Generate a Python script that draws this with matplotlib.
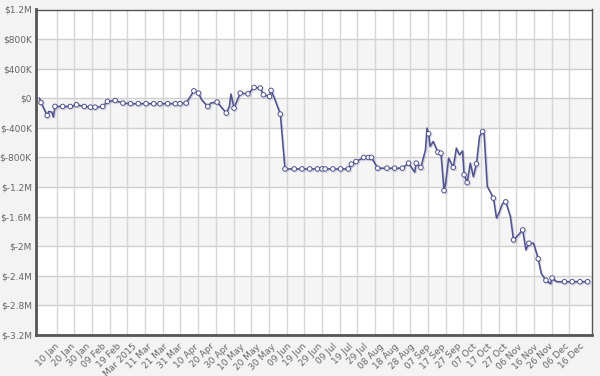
import matplotlib
matplotlib.use("Agg")
import matplotlib.pyplot as plt
import matplotlib.dates as mdates
import matplotlib.patheffects as pe
import numpy as np
import pandas as pd

# ---- data ----
dates = ["2014-12-31", "2015-01-01", "2015-01-05", "2015-01-06", "2015-01-08", "2015-01-09",
         "2015-01-10", "2015-01-15", "2015-01-20", "2015-01-24", "2015-01-29", "2015-02-02",
         "2015-02-05", "2015-02-10", "2015-02-13", "2015-02-18", "2015-02-23", "2015-02-28",
         "2015-03-05", "2015-03-10", "2015-03-15", "2015-03-19", "2015-03-24", "2015-03-29",
         "2015-04-01", "2015-04-05", "2015-04-10", "2015-04-13", "2015-04-15", "2015-04-19",
         "2015-04-21", "2015-04-25", "2015-05-01", "2015-05-03", "2015-05-04", "2015-05-06",
         "2015-05-10", "2015-05-15", "2015-05-19", "2015-05-23", "2015-05-25", "2015-05-29",
         "2015-05-30", "2015-06-01", "2015-06-05", "2015-06-08", "2015-06-14", "2015-06-19",
         "2015-06-24", "2015-06-29", "2015-07-02", "2015-07-04", "2015-07-09", "2015-07-14",
         "2015-07-19", "2015-07-21", "2015-07-24", "2015-07-29", "2015-08-01", "2015-08-03",
         "2015-08-07", "2015-08-13", "2015-08-18", "2015-08-23", "2015-08-27", "2015-08-31",
         "2015-09-01", "2015-09-04", "2015-09-07", "2015-09-08", "2015-09-09", "2015-09-10",
         "2015-09-12", "2015-09-15", "2015-09-17", "2015-09-19", "2015-09-20", "2015-09-22",
         "2015-09-25", "2015-09-27", "2015-09-29", "2015-10-01", "2015-10-02", "2015-10-04",
         "2015-10-06", "2015-10-08", "2015-10-10", "2015-10-12", "2015-10-14", "2015-10-15",
         "2015-10-17", "2015-10-21", "2015-10-23", "2015-10-25", "2015-10-26", "2015-10-27",
         "2015-10-29", "2015-11-01", "2015-11-03", "2015-11-06", "2015-11-09", "2015-11-11",
         "2015-11-13", "2015-11-16", "2015-11-19", "2015-11-21", "2015-11-24", "2015-11-27",
         "2015-11-28", "2015-12-01", "2015-12-06", "2015-12-11", "2015-12-16", "2015-12-21"]
values = [0, -57, -233, -178, -187, -255,
          -110, -111, -111, -88, -111, -120,
          -120, -111, -43, -30, -65, -73,
          -73, -73, -73, -73, -73, -73,
          -73, -65, 100, 70, -20, -111,
          -65, -51, -200, -111, 57, -133,
          70, 60, 146, 138, 47, 24,
          106, 11, -214, -955, -955, -955,
          -955, -955, -955, -955, -955, -955,
          -955, -890, -855, -800, -800, -800,
          -945, -945, -945, -945, -877, -1000,
          -877, -936, -697, -403, -480, -652,
          -584, -728, -742, -1248, -1150, -810,
          -936, -674, -765, -711, -1035, -1140,
          -877, -1060, -886, -515, -450, -495,
          -1190, -1350, -1620, -1530, -1470, -1420,
          -1400, -1600, -1915, -1850, -1780, -2050,
          -1960, -1960, -2170, -2370, -2460, -2510,
          -2430, -2480, -2480, -2480, -2480, -2480]
# points that carry a hollow marker (1) or are plain line vertices (0)
has_marker = [0, 1, 1, 0, 0, 0,
              1, 1, 1, 1, 1, 1,
              1, 1, 1, 1, 1, 1,
              1, 1, 1, 1, 1, 1,
              1, 1, 1, 1, 0, 1,
              0, 1, 1, 0, 0, 1,
              1, 1, 1, 1, 1, 1,
              1, 0, 1, 1, 1, 1,
              1, 1, 1, 1, 1, 1,
              1, 1, 1, 1, 1, 1,
              1, 1, 1, 1, 1, 0,
              1, 1, 0, 0, 1, 0,
              0, 1, 1, 1, 0, 0,
              1, 0, 0, 0, 1, 1,
              0, 0, 1, 0, 1, 0,
              0, 1, 0, 0, 0, 0,
              1, 0, 1, 0, 1, 0,
              1, 0, 1, 0, 1, 0,
              1, 0, 1, 1, 1, 1]

y_ticks = [1200, 800, 400, 0, -400, -800, -1200, -1600, -2000, -2400, -2800, -3200]
y_tick_labels = ["$1.2M", "$800K", "$400K", "$0", "$-400K", "$-800K", "$-1.2M",
                 "$-1.6M", "$-2M", "$-2.4M", "$-2.8M", "$-3.2M"]
x_tick_dates = ["2015-01-10", "2015-01-20", "2015-01-30", "2015-02-09", "2015-02-19",
                "2015-03-01", "2015-03-11", "2015-03-21", "2015-03-31", "2015-04-10",
                "2015-04-20", "2015-04-30", "2015-05-10", "2015-05-20", "2015-05-30",
                "2015-06-09", "2015-06-19", "2015-06-29", "2015-07-09", "2015-07-19",
                "2015-07-29", "2015-08-08", "2015-08-18", "2015-08-28", "2015-09-07",
                "2015-09-17", "2015-09-27", "2015-10-07", "2015-10-17", "2015-10-27",
                "2015-11-06", "2015-11-16", "2015-11-26", "2015-12-06", "2015-12-16"]
x_tick_labels = ["10 Jan", "20 Jan", "30 Jan", "09 Feb", "19 Feb", "Mar 2015", "11 Mar",
                 "21 Mar", "31 Mar", "10 Apr", "20 Apr", "30 Apr", "10 May", "20 May",
                 "30 May", "09 Jun", "19 Jun", "29 Jun", "09 Jul", "19 Jul", "29 Jul",
                 "08 Aug", "18 Aug", "28 Aug", "07 Sep", "17 Sep", "27 Sep", "07 Oct",
                 "17 Oct", "27 Oct", "06 Nov", "16 Nov", "26 Nov", "06 Dec", "16 Dec"]

# ---- figure ----
fig = plt.figure(figsize=(6.0, 3.76), dpi=100)
fig.patch.set_facecolor("#f3f3f3")
ax = fig.add_axes([36 / 600, 1 - 335 / 376, 556 / 600, (335 - 9.5) / 376])
ax.set_facecolor("white")

x = pd.to_datetime(dates)
xn = mdates.date2num(x)
y = np.array(values, dtype=float)

ax.set_xlim(mdates.date2num(pd.Timestamp("2014-12-28 18:00")),
            mdates.date2num(pd.Timestamp("2015-12-23 20:00")))
ax.set_ylim(-3200, 1200)

# alternating bands
for i in range(len(y_ticks) - 1):
    if i % 2 == 1:
        ax.axhspan(y_ticks[i + 1], y_ticks[i], color="#f5f5f5", zorder=0, lw=0)

# grid
for t in y_ticks[1:-1]:
    ax.axhline(t, color="#cfcfcf", lw=1.0, zorder=1)
vgrid_px = 56.7 + 17.68 * np.arange(30)
for px in vgrid_px:
    f = (px - 36) / 556
    ax.plot([f, f], [0, 1], transform=ax.transAxes, color="#d6d6d6", lw=1.0, zorder=1)

mk = [i for i, m in enumerate(has_marker) if m]
ax.plot(xn, y, color="#50538f", lw=1.15, zorder=3,
        marker="o", markevery=mk, markersize=3.3, markerfacecolor="white",
        markeredgecolor="#50538f", markeredgewidth=0.7,
        path_effects=[pe.SimpleLineShadow(offset=(0.8, -0.8), alpha=0.2, shadow_color="#50538f"),
                      pe.Normal()])

ax.set_yticks(y_ticks)
ax.set_yticklabels(y_tick_labels)
ax.set_xticks(mdates.date2num(pd.to_datetime(x_tick_dates)))
ax.set_xticklabels(x_tick_labels, rotation=45, ha="right", rotation_mode="anchor")
ax.tick_params(axis="both", length=0, colors="#666666", labelsize=6.5)
ax.tick_params(axis="y", pad=3)
ax.tick_params(axis="x", pad=5)

for s in ["top", "right"]:
    ax.spines[s].set_color("#555555")
    ax.spines[s].set_linewidth(1.0)
for s in ["left", "bottom"]:
    ax.spines[s].set_color("#555555")
    ax.spines[s].set_linewidth(2.0)

fig.savefig("out.png", dpi=100, facecolor=fig.get_facecolor())
